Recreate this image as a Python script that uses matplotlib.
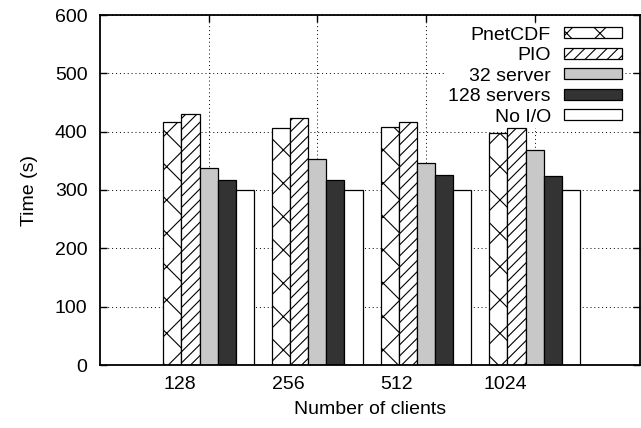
import matplotlib
matplotlib.use("Agg")
import matplotlib.pyplot as plt
import matplotlib.transforms as mtransforms
import numpy as np

plt.rcParams['font.family'] = ['Liberation Sans', 'DejaVu Sans']
plt.rcParams['hatch.linewidth'] = 0.8

clients = ["128", "256", "512", "1024"]
series = ["PnetCDF", "PIO", "32 server", "128 servers", "No I/O"]
pnetcdf = [417, 407, 408, 397]
pio = [431, 423, 416, 406]
server32 = [337, 354, 347, 369]
server128 = [318, 317, 326, 324]
noio = [300, 300, 300, 300]
yticks = [0, 100, 200, 300, 400, 500, 600]

values = [pnetcdf, pio, server32, server128, noio]
fills = ["white", "white", "#c8c8c8", "#333333", "white"]
hatches = ["x", "///", None, None, None]

fig = plt.figure(figsize=(6.41, 4.28), dpi=100)
ax = fig.add_axes([100/641, 63/428, 540/641, 350/428])

x = np.arange(len(clients))
w = 1/6
for i, (vals, fc, h) in enumerate(zip(values, fills, hatches)):
    ax.bar(x + (i - 2) * w, vals, width=w, color=fc, edgecolor="black",
           linewidth=0.9, hatch=h, label=series[i], zorder=2)

ax.set_xlim(-1.0, 3.97)
ax.set_ylim(0, 600)
ax.set_yticks(yticks)
ax.set_xticks(x)
ax.set_xticklabels(clients)
ax.set_axisbelow(True)
ax.grid(True, color="black", linestyle=(0, (1, 3)), linewidth=0.7)

ax.tick_params(axis="both", direction="in", length=5, width=1, labelsize=14,
               top=True, right=True, colors="black")
ax.tick_params(axis="y", pad=9)
ax.tick_params(axis="x", pad=8)
for s in ax.spines.values():
    s.set_linewidth(1.3)

offset = mtransforms.ScaledTranslation(-29/100, 0, fig.dpi_scale_trans)
for lab in ax.xaxis.get_majorticklabels():
    lab.set_transform(lab.get_transform() + offset)

ax.set_xlabel("Number of clients", fontsize=14, labelpad=6)
ax.set_ylabel("Time (s)", fontsize=14, labelpad=12)

leg = ax.legend(loc="upper right", bbox_to_anchor=(0.97, 0.972), frameon=True,
                fontsize=14, markerfirst=False, handlelength=2.95,
                handleheight=0.5, handletextpad=0.7, labelspacing=0.18,
                borderpad=0.1, fancybox=False, borderaxespad=0)
leg.get_frame().set_edgecolor("none")
leg.get_frame().set_facecolor("white")
leg.get_frame().set_alpha(1.0)
leg.set_zorder(1)

fig.savefig("out.png", dpi=100)
